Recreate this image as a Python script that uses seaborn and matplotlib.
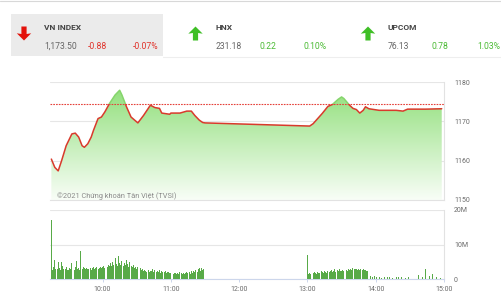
import numpy as np
import pandas as pd
import matplotlib
matplotlib.use("Agg")
import matplotlib.pyplot as plt
from matplotlib.patches import Rectangle, Polygon
from matplotlib.lines import Line2D
import seaborn as sns

# ---------------- data ----------------
price_times = ["09:15","09:18","09:21","09:24","09:28","09:33","09:36","09:39","09:42","09:44",
               "09:47","09:50","09:52","09:56","09:59","10:02","10:06","10:11","10:15","10:17",
               "10:21","10:25","10:31","10:36","10:42","10:46","10:50","10:52","10:59","11:00",
               "11:08","11:14","11:18","11:21","11:25","11:28","11:30","13:02","13:05","13:13",
               "13:18","13:22","13:27","13:30","13:32","13:37","13:40","13:43","13:46","13:49",
               "13:51","13:54","14:03","14:18","14:24","14:28","14:44","14:58"]
price_values = [1160.4,1158.3,1157.4,1160.0,1163.8,1166.8,1167.0,1166.0,1163.8,1163.4,
                1164.3,1166.0,1167.7,1170.7,1171.1,1172.4,1174.5,1176.7,1177.9,1176.7,
                1173.7,1171.1,1169.6,1171.5,1174.1,1173.5,1173.3,1172.1,1171.8,1172.1,
                1172.1,1172.6,1172.6,1171.5,1170.3,1169.7,1169.6,1168.8,1169.4,1172.0,
                1173.8,1174.3,1175.6,1176.2,1175.8,1174.1,1173.3,1173.0,1172.1,1172.8,
                1173.7,1173.2,1172.8,1172.8,1172.6,1173.1,1173.1,1173.2]
reference_price = 1174.38

# volume (millions), one bar per minute from 09:15 and from 13:00
morning_start = "09:15"
morning_volume = [17, 2.5, 3.5, 5.5, 3, 2.8, 4.8, 3.2, 2.6, 5, 3.8, 3, 2.8, 3.5, 2.6,
                  2.5, 3.2, 2.8, 4.5, 3, 2.7, 3.6, 5.2, 2.9, 3.3, 2.6, 8, 3, 3.4, 3.1,
                  2.9, 3.3, 2.8, 3, 3.2, 2.7, 3.1, 3.4, 2.9, 3.2, 3.6, 3, 3.3, 3.5, 3.1,
                  3.4, 3.8, 3.2, 4, 3.6, 4.2, 3.7, 4.5, 3.9, 4.8, 4.1, 6, 4.4, 3.9, 6.8,
                  4.6, 4.2, 5.1, 3.8, 4.5, 4, 5.5, 4.3, 3.6, 4.9, 3.9, 3.4, 4.2, 3.1, 3.6,
                  3, 3.4, 2.7, 3.2, 2.5, 2.9, 2.3, 2.7, 2.4, 2.1, 2.6, 2, 2.4, 2.2, 3,
                  2.1, 2.5, 1.9, 2.3, 2, 2.6, 1.8, 2.2, 2, 1.9, 2.4, 1.7, 2.1, 1.9, 1.8,
                  1.6, 1.9, 1.5, 1.8, 1.6, 1.4, 1.7, 1.5, 1.9, 1.6, 1.4, 1.8, 1.5, 1.7, 2,
                  1.6, 1.9, 1.5, 2.2, 1.8, 2.4, 2.1, 2.6, 1.9, 2.9, 3.2, 2.4, 3.1, 2.6, 2.8]
afternoon_start = "13:00"
afternoon_volume = [6.9, 1.5, 1.8, 1.4, 1.9, 1.6, 2, 1.7, 1.5, 2.1, 1.8, 1.6, 2.2, 1.9, 1.7,
                    2.3, 2, 1.8, 2.4, 1.9, 2.2, 2.6, 2, 2.3, 2.8, 2.1, 2.5, 2.2, 2.9, 2.4,
                    2.2, 2.7, 2.3, 3.1, 2.5, 2.4, 2.9, 2.6, 3, 2.7, 3.1, 2.8, 3, 2.9, 2.7,
                    3, 2.6, 2.9, 2.7, 2.8, 2.5, 2.6, 2.4, 2.2]
late_times = ["13:55","13:57","13:59","14:01","14:03","14:05","14:08","14:10","14:12","14:15",
              "14:18","14:20","14:23","14:26","14:29","14:38","14:41","14:44","14:47","14:50",
              "14:53","14:57"]
late_volume = [0.8, 0.5, 0.9, 0.6, 0.7, 0.4, 0.6, 0.5, 0.7, 0.4,
               0.6, 0.5, 0.6, 0.4, 0.5, 1.2, 0.6, 3.0, 0.8, 1.4,
               0.6, 0.4]

time_ticks = ["10:00", "11:00", "12:00", "13:00", "14:00", "15:00"]
price_ticks = [1150, 1160, 1170, 1180]
volume_ticks = [0, 10, 20]
volume_tick_labels = ["0", "10M", "20M"]

indices = ["VN INDEX", "HNX", "UPCOM"]
index_values = ["1,173.50", "231.18", "76.13"]
index_changes = ["-0.88", "0.22", "0.78"]
index_pcts = ["-0.07%", "0.10%", "1.03%"]
index_up = [False, True, True]

watermark = "©2021 Chứng khoán Tân Việt (TVSI)"


def to_min(s):
    h, m = s.split(":")
    return (int(h) - 9) * 60 + int(m)

# ---------------- style ----------------
sns.set_theme(style="white")
plt.rcParams["font.family"] = ["Roboto", "DejaVu Sans"]

W, H = 501, 300
fig = plt.figure(figsize=(W / 100, H / 100), dpi=100)
fig.patch.set_facecolor("white")

def fx(px):
    return px / W

def fy(py):
    return 1 - py / H

RED = "#e0322a"
GREEN_TXT = "#4cbb35"
GRID = "#e6e6e6"
TICKC = "#6b6b6b"

# header
fig.add_artist(Line2D([0, 1], [fy(0.6), fy(0.6)], color="#d8d8d8", lw=0.8, transform=fig.transFigure))
fig.add_artist(Rectangle((fx(11), fy(56)), fx(163) - fx(11), fy(14) - fy(56),
                         facecolor="#ebebeb", edgecolor="none", transform=fig.transFigure))
fig.add_artist(Line2D([fx(163), 1], [fy(57), fy(57)], color="#eeeeee", lw=0.8, transform=fig.transFigure))

def arrow(cx, cy, up, color):
    s = -1 if up else 1
    pts = [(cx - 2.6, cy - 7 * s), (cx + 2.6, cy - 7 * s), (cx + 2.6, cy + 0.5 * s),
           (cx + 7.2, cy - 0.2 * s), (cx, cy + 7 * s), (cx - 7.2, cy - 0.2 * s),
           (cx - 2.6, cy + 0.5 * s)]
    fig.add_artist(Polygon([(fx(x), fy(y)) for x, y in pts], closed=True,
                           facecolor=color, edgecolor="none", transform=fig.transFigure))

arrow_x = [24, 195.5, 368]
name_x = [44, 216, 387.5]
chg_x = [88, 260, 431.5]
pct_x = [132.5, 304, 477]
for i in range(3):
    col = GREEN_TXT if index_up[i] else RED
    arrow(arrow_x[i], 33.5, index_up[i], "#3fbf26" if index_up[i] else "#e3120b")
    fig.text(fx(name_x[i]), fy(28), indices[i], fontsize=6, fontweight="bold",
             color="#444444", va="center", ha="left")
    fig.text(fx(name_x[i]), fy(46.3), index_values[i], fontsize=6.2, color="#666666",
             va="center", ha="left")
    fig.text(fx(chg_x[i]), fy(46.3), index_changes[i], fontsize=6.2, color=col,
             va="center", ha="left")
    fig.text(fx(pct_x[i]), fy(46.3), index_pcts[i], fontsize=6.2, color=col,
             va="center", ha="left")

# ---------------- price chart ----------------
X0, X1 = 13.8, 360
left, right = fx(50), fx(444)
ax = fig.add_axes([left, fy(200), right - left, fy(82) - fy(200)])
t = np.array([to_min(s) for s in price_times])
p = np.array(price_values)
df = pd.DataFrame({"t": t, "p": p})

ax.set_xlim(X0, X1)
ax.set_ylim(1150, 1180)

poly = ax.fill_between(df["t"], df["p"], 1150, color="none", lw=0)
grad = np.linspace(0, 1, 256).reshape(-1, 1)
top_c = np.array([0.55, 0.87, 0.46])
bot_c = np.array([0.975, 0.995, 0.97])
img = top_c[None, None, :] * (1 - grad[:, :, None]) + bot_c[None, None, :] * grad[:, :, None]
im = ax.imshow(img, extent=[X0, X1, 1150, 1180], origin="upper", aspect="auto", zorder=1)
path = poly.get_paths()[0]
im.set_clip_path(path, transform=ax.transData)
ax.set_xlim(X0, X1)
ax.set_ylim(1150, 1180)

sns.lineplot(data=df, x="t", y="p", ax=ax, color="#d93a2c", lw=1.1, zorder=3)
sns.lineplot(data=df, x="t", y="p", ax=ax, color="#86d56c", lw=1.1, zorder=3)
l_red, l_green = ax.lines[-2], ax.lines[-1]
l_red.set_clip_path(Rectangle((X0, 1140), X1 - X0, reference_price - 1140, transform=ax.transData))
l_green.set_clip_path(Rectangle((X0, reference_price), X1 - X0, 50, transform=ax.transData))
ax.axhline(reference_price, color="#e5413a", lw=0.8, ls=(0, (1.5, 1)), zorder=4)

ax.set_yticks(price_ticks)
ax.yaxis.tick_right()
ax.tick_params(axis="y", length=0, labelsize=5, labelcolor=TICKC, pad=7.2)
ax.set_xticks([])
ax.grid(axis="y", color=GRID, lw=0.8)
ax.set_axisbelow(True)
for sname, sp in ax.spines.items():
    sp.set_visible(sname in ("right", "bottom"))
    sp.set_color("#e2e2e2")
    sp.set_linewidth(0.8)
ax.set_xlabel("")
ax.set_ylabel("")
ax.text(fx(57), fy(196), watermark, transform=fig.transFigure, fontsize=5.3,
        color="#8a8a8a", va="center", ha="left")

# ---------------- volume chart ----------------
vx = fig.add_axes([left, fy(279), right - left, fy(210) - fy(279)])
m0 = to_min(morning_start)
a0 = to_min(afternoon_start)
vt = ([m0 + i for i in range(len(morning_volume))]
      + [a0 + i for i in range(len(afternoon_volume))]
      + [to_min(s) for s in late_times])
vv = list(morning_volume) + list(afternoon_volume) + list(late_volume)
vdf = pd.DataFrame({"t": vt, "v": vv})
sns.histplot(data=vdf, x="t", weights="v", discrete=True, shrink=0.85, ax=vx,
             color="#58aa48", alpha=1, edgecolor="none", linewidth=0, zorder=3)
vx.set_xlim(X0, X1)
vx.set_ylim(0, 20)
vx.set_yticks(volume_ticks)
vx.set_yticklabels(volume_tick_labels)
vx.yaxis.tick_right()
vx.tick_params(axis="y", length=0, labelsize=5, labelcolor=TICKC, pad=7.2)
vx.set_xticks([to_min(s) for s in time_ticks])
vx.set_xticklabels(time_ticks)
vx.tick_params(axis="x", length=2.3, width=0.7, color="#ccd6eb", labelsize=5,
               labelcolor=TICKC, pad=2.5, bottom=True)
vx.grid(axis="y", color=GRID, lw=0.8)
vx.set_axisbelow(True)
for sname, sp in vx.spines.items():
    sp.set_visible(sname in ("right", "bottom"))
    sp.set_linewidth(0.8)
vx.spines["right"].set_color("#e2e2e2")
vx.spines["bottom"].set_color("#ccd6eb")
vx.set_xlabel("")
vx.set_ylabel("")

fig.savefig("out.png", dpi=100, facecolor="white")
